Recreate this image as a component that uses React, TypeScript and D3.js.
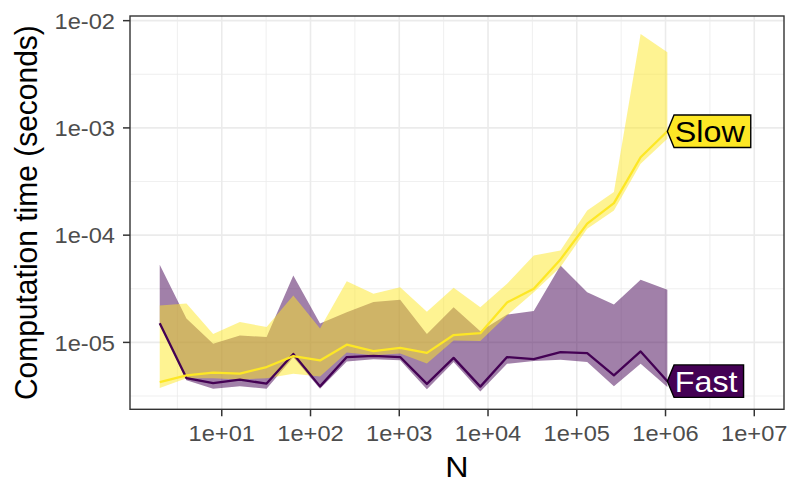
import React from "react";
import * as d3 from "d3";

// ---- data ----
const N = [2, 4, 8, 16, 32, 64, 128, 256, 512, 1024, 2048, 4096, 8192, 16384, 32768, 65536, 131072, 262144, 524288, 1048576];

const fastMedian = [1.51e-5, 4.65e-6, 4.18e-6, 4.49e-6, 4.13e-6, 7.81e-6, 3.89e-6, 7.3e-6, 7.48e-6, 7.3e-6, 4.1e-6, 7.17e-6, 3.87e-6, 7.3e-6, 6.98e-6, 8.12e-6, 7.94e-6, 4.92e-6, 8.24e-6, 4.35e-6];
const fastLower = [1.47e-5, 4.43e-6, 3.7e-6, 3.89e-6, 3.7e-6, 7.25e-6, 3.7e-6, 6.65e-6, 6.95e-6, 6.8e-6, 3.65e-6, 6.55e-6, 3.49e-6, 6.32e-6, 6.7e-6, 6.9e-6, 6.55e-6, 3.89e-6, 6.32e-6, 3.83e-6];
const fastUpper = [5.3e-5, 1.67e-5, 9.72e-6, 1.16e-5, 1.12e-5, 4.21e-5, 1.5e-5, 1.91e-5, 2.38e-5, 2.5e-5, 1.2e-5, 2.13e-5, 1.27e-5, 1.82e-5, 1.96e-5, 5.22e-5, 2.94e-5, 2.26e-5, 3.84e-5, 3.1e-5];

const slowMedian = [4.27e-6, 4.92e-6, 5.22e-6, 5.11e-6, 5.89e-6, 7.45e-6, 6.79e-6, 9.52e-6, 8.3e-6, 8.89e-6, 7.98e-6, 1.17e-5, 1.22e-5, 2.36e-5, 3.16e-5, 5.94e-5, 1.28e-4, 1.99e-4, 5.33e-4, 9.31e-4];
const slowLower = [3.75e-6, 4.62e-6, 4.62e-6, 4.52e-6, 4.62e-6, 5.11e-6, 4.82e-6, 8.07e-6, 7.57e-6, 7.89e-6, 6.37e-6, 1.04e-5, 1.03e-5, 1.79e-5, 2.94e-5, 5.04e-5, 1.15e-4, 1.7e-4, 4.62e-4, 7.91e-4];
const slowUpper = [2.21e-5, 2.3e-5, 1.2e-5, 1.55e-5, 1.39e-5, 2.74e-5, 1.35e-5, 3.71e-5, 2.84e-5, 3.27e-5, 1.93e-5, 3.23e-5, 2.13e-5, 3.52e-5, 6.47e-5, 7.2e-5, 1.7e-4, 2.52e-4, 7.53e-3, 5.08e-3];

const xTicks = [1e1, 1e2, 1e3, 1e4, 1e5, 1e6, 1e7];
const xTickLabels = ["1e+01", "1e+02", "1e+03", "1e+04", "1e+05", "1e+06", "1e+07"];
const yTicks = [1e-2, 1e-3, 1e-4, 1e-5];
const yTickLabels = ["1e-02", "1e-03", "1e-04", "1e-05"];
const xLimits = [2, 1e7];

const seriesNames = ["Fast", "Slow"];
const seriesColors = ["#440154", "#FDE725"];
const labelTextColors = ["#FFFFFF", "#000000"];

// ---- layout ----
const W = 800;
const H = 500;
const P = { left: 130, right: 784, top: 16, bottom: 409.3 };
const FONT = "'Liberation Sans', Arial, Helvetica, sans-serif";
const SX = 1.075; // horizontal glyph stretch seen in the reference

function expandLog(lo: number, hi: number, f = 0.05): [number, number] {
  const a = Math.log10(lo);
  const b = Math.log10(hi);
  const d = (b - a) * f;
  return [Math.pow(10, a - d), Math.pow(10, b + d)];
}

const allVals = [...fastLower, ...fastUpper, ...slowLower, ...slowUpper, ...fastMedian, ...slowMedian];
const x = d3.scaleLog().domain(expandLog(xLimits[0], xLimits[1])).range([P.left, P.right]);
const y = d3
  .scaleLog()
  .domain(expandLog(d3.min(allVals) as number, d3.max(allVals) as number))
  .range([P.bottom, P.top]);

function minorLogs(domain: number[]) {
  const a = Math.log10(domain[0]);
  const b = Math.log10(domain[1]);
  const out: number[] = [];
  for (let k = Math.floor(a) - 1; k <= Math.ceil(b) + 1; k++) {
    const v = k + 0.5;
    if (v > a && v < b) out.push(Math.pow(10, v));
  }
  return out;
}

function measure(text: string, size: number) {
  try {
    const ctx = document.createElement("canvas").getContext("2d");
    if (ctx) {
      ctx.font = `${size}px 'Liberation Sans', Arial, sans-serif`;
      return ctx.measureText(text).width;
    }
  } catch (e) {}
  return text.length * size * 0.55;
}

type Row = { n: number; lo: number; hi: number; med: number };

function rows(lo: number[], hi: number[], med: number[]): Row[] {
  return N.map((n, i) => ({ n, lo: lo[i], hi: hi[i], med: med[i] }));
}

const series = [rows(fastLower, fastUpper, fastMedian), rows(slowLower, slowUpper, slowMedian)];

const area = d3
  .area<Row>()
  .x((d) => x(d.n))
  .y0((d) => y(d.lo))
  .y1((d) => y(d.hi));
const line = d3
  .line<Row>()
  .x((d) => x(d.n))
  .y((d) => y(d.med));

function Label({ name, row, fill, textColor }: { name: string; row: Row; fill: string; textColor: string }) {
  const x0 = x(row.n);
  const y0 = y(row.med);
  const fs = 30;
  const tw = measure(name, fs) * SX;
  const h = 32.5;
  const tip = 6.7;
  const tx = x0 + 7.5;
  const right = tx + tw + 6;
  const pts = [
    [x0, y0],
    [x0 + tip, y0 - h / 2],
    [right, y0 - h / 2],
    [right, y0 + h / 2],
    [x0 + tip, y0 + h / 2],
  ]
    .map((p) => p.join(","))
    .join(" ");
  return (
    <g>
      <polygon points={pts} fill={fill} stroke="#000" strokeWidth={1.4} strokeLinejoin="miter" />
      <text
        transform={`translate(${tx},${y0 + 10.5}) scale(${SX},1)`}
        fontSize={fs}
        fontFamily={FONT}
        fill={textColor}
      >
        {name}
      </text>
    </g>
  );
}

export default function App() {
  const xMinor = minorLogs(x.domain());
  const yMinor = minorLogs(y.domain());
  const grid = "#EBEBEB";
  const dark = "#333333";
  return (
    <svg
      width={W}
      height={H}
      viewBox={`0 0 ${W} ${H}`}
      style={{ position: "absolute", left: 0, top: 0, background: "#fff" }}
    >
      <rect x={0} y={0} width={W} height={H} fill="#fff" />
      {/* grid */}
      <g>
        {xMinor.map((v, i) => (
          <line key={"xm" + i} x1={x(v)} x2={x(v)} y1={P.top} y2={P.bottom} stroke={grid} strokeWidth={0.8} />
        ))}
        {yMinor.map((v, i) => (
          <line key={"ym" + i} x1={P.left} x2={P.right} y1={y(v)} y2={y(v)} stroke={grid} strokeWidth={0.8} />
        ))}
        {xTicks.map((v, i) => (
          <line key={"xM" + i} x1={x(v)} x2={x(v)} y1={P.top} y2={P.bottom} stroke={grid} strokeWidth={1.6} />
        ))}
        {yTicks.map((v, i) => (
          <line key={"yM" + i} x1={P.left} x2={P.right} y1={y(v)} y2={y(v)} stroke={grid} strokeWidth={1.6} />
        ))}
      </g>
      {/* ribbons */}
      {series.map((s, i) => (
        <path key={"a" + i} d={area(s) || ""} fill={seriesColors[i]} fillOpacity={0.5} stroke="none" />
      ))}
      {/* lines */}
      {series.map((s, i) => (
        <path
          key={"l" + i}
          d={line(s) || ""}
          fill="none"
          stroke={seriesColors[i]}
          strokeWidth={2.3}
          strokeLinejoin="round"
        />
      ))}
      {/* panel border */}
      <rect
        x={P.left}
        y={P.top}
        width={P.right - P.left}
        height={P.bottom - P.top}
        fill="none"
        stroke={dark}
        strokeWidth={1.4}
      />
      {/* labels */}
      {series.map((s, i) => (
        <Label
          key={"lab" + i}
          name={seriesNames[i]}
          row={s[s.length - 1]}
          fill={seriesColors[i]}
          textColor={labelTextColors[i]}
        />
      ))}
      {/* x axis */}
      {xTicks.map((v, i) => (
        <g key={"xt" + i}>
          <line x1={x(v)} x2={x(v)} y1={P.bottom} y2={P.bottom + 7} stroke={dark} strokeWidth={1.5} />
          <text
            transform={`translate(${x(v)},${P.bottom + 31.5}) scale(${SX},1)`}
            textAnchor="middle"
            fontSize={22}
            fontFamily={FONT}
            fill="#4D4D4D"
          >
            {xTickLabels[i]}
          </text>
        </g>
      ))}
      {/* y axis */}
      {yTicks.map((v, i) => (
        <g key={"yt" + i}>
          <line x1={P.left - 7} x2={P.left} y1={y(v)} y2={y(v)} stroke={dark} strokeWidth={1.5} />
          <text
            transform={`translate(${P.left - 15},${y(v) + 8.3}) scale(${SX},1)`}
            textAnchor="end"
            fontSize={22}
            fontFamily={FONT}
            fill="#4D4D4D"
          >
            {yTickLabels[i]}
          </text>
        </g>
      ))}
      {/* axis titles */}
      <text
        transform={`translate(${(P.left + P.right) / 2},476.7) scale(${SX},1)`}
        textAnchor="middle"
        fontSize={30}
        fontFamily={FONT}
        fill="#000"
      >
        N
      </text>
      <text
        transform={`translate(36.5,${(P.top + P.bottom) / 2}) scale(${SX},1) rotate(-90)`}
        textAnchor="middle"
        fontSize={30}
        fontFamily={FONT}
        fill="#000"
      >
        Computation time (seconds)
      </text>
    </svg>
  );
}
